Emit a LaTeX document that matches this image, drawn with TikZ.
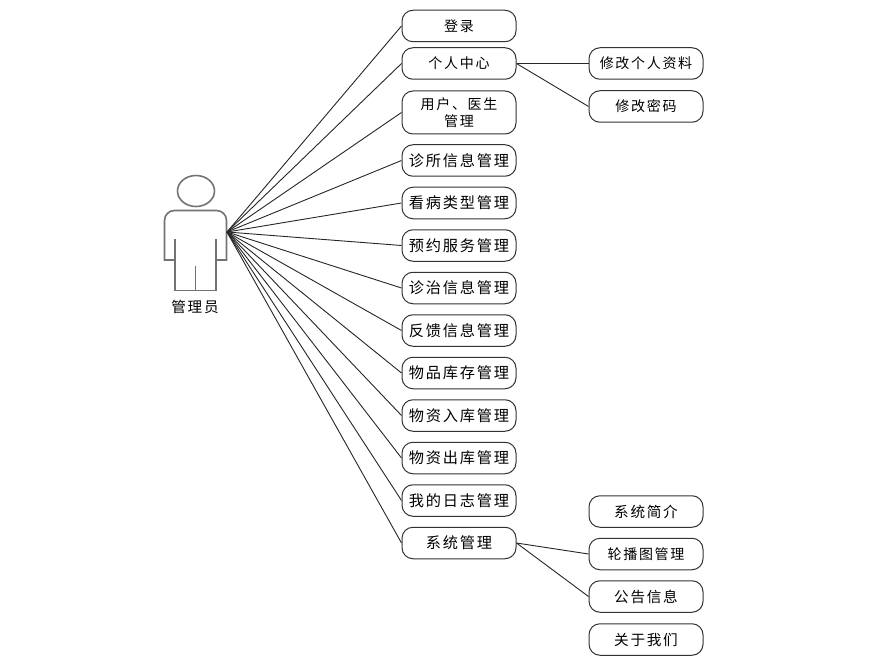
\documentclass[tikz,border=0pt]{standalone}
\usepackage{fontspec}
\setmainfont{Noto Sans CJK SC}[LetterSpace=12,Scale=1]
\tikzset{
  box/.style={draw=black!80,line width=1pt,rounded corners=11pt,minimum width=114pt,inner sep=0pt,align=center,font=\fontsize{15.2pt}{17pt}\selectfont,text=black},
  h31/.style={box,minimum height=31.5pt},
  small/.style={font=\fontsize{14pt}{17pt}\selectfont},
  mid/.style={font=\fontsize{14.6pt}{17pt}\selectfont},
  link/.style={draw=black!85,line width=0.9pt},
  person/.style={draw=black!55,line width=1.6pt}
}
\begin{document}
\begin{tikzpicture}[x=1pt,y=-1pt]
\useasboundingbox (0,0) rectangle (875,663);
% actor
\draw[person] (196,191) ellipse [x radius=18.5,y radius=15.5];
\draw[person] (175,260) -- (164.5,260) [rounded corners=10pt] -- (164.5,210.5) -- (226.5,210.5) [sharp corners] -- (226.5,260) -- (216,260);
\draw[person] (175,239) -- (175,290.5) -- (216,290.5) -- (216,239);
\draw[person] (195.5,266) -- (195.5,290.5);
\node[font=\fontsize{14.6pt}{17pt}\selectfont,inner sep=0pt] (actorlabel) at (195,307) {管理员};
\coordinate (actor) at (227,232);
% left column
\node[h31,small] (a1) at (459,26) {登录};
\node[h31,small] (a2) at (459,63.5) {个人中心};
\node[box,small,minimum height=43pt] (a3) at (459,112.5) {用户、医生\\管理};
\node[h31] (a4) at (459,160.5) {诊所信息管理};
\node[h31] (a5) at (459,203) {看病类型管理};
\node[h31] (a6) at (459,245.5) {预约服务管理};
\node[h31] (a7) at (459,288) {诊治信息管理};
\node[h31] (a8) at (459,330.5) {反馈信息管理};
\node[h31] (a9) at (459,373) {物品库存管理};
\node[h31] (a10) at (459,415.5) {物资入库管理};
\node[h31] (a11) at (459,458) {物资出库管理};
\node[h31] (a12) at (459,500.5) {我的日志管理};
\node[h31] (a13) at (459,543) {系统管理};
% right column
\node[h31,small] (b1) at (646,63.5) {修改个人资料};
\node[h31,small] (b2) at (646,106.5) {修改密码};
\node[h31,mid] (c1) at (646,511.5) {系统简介};
\node[h31,small] (c2) at (646,554) {轮播图管理};
\node[h31,mid] (c3) at (646,596.5) {公告信息};
\node[h31,mid] (c4) at (646,639.5) {关于我们};
% connectors
\foreach \n in {a1,a2,a3,a4,a5,a6,a7,a8,a9,a10,a11,a12,a13}
  \draw[link] (actor) -- (\n.west);
\draw[link] (a2.east) -- (b1.west);
\draw[link] (a2.east) -- (b2.west);
\draw[link] (a13.east) -- (c2.west);
\draw[link] (a13.east) -- (c3.west);
\end{tikzpicture}
\end{document}
